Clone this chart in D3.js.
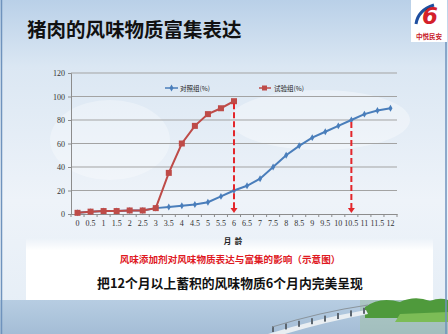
<!DOCTYPE html>
<html>
<head>
<meta charset="utf-8">
<script src="https://cdn.jsdelivr.net/npm/d3@7"></script>
<style>
  body { margin: 0; }
  svg { display: block; }
</style>
</head>
<body>
<div id="chart-area"></div>
<script>
const months = ["0","0.5","1","1.5","2","2.5","3","3.5","4","4.5","5","5.5","6",
  "6.5","7","7.5","8","8.5","9","9.5","10","10.5","11","11.5","12"];
const control = [1,2,2.5,2.5,3,3,5,6,7,8,10,15,20,24,30,40,50,58,65,70,75,80,85,88,90];
const trial = [1,2,2.5,2.5,3,3,5,35,60,75,85,90,96];
const yTicks = [0,20,40,60,80,100,120];
const seriesNames = ["对照组(%)", "试验组(%)"];
const arrowsAt = [["6", trial], ["10.5", control]];

const W = 448, H = 334;
const svg = d3.select("#chart-area").append("svg")
  .attr("width", W).attr("height", H);

const defs = svg.append("defs");
const bg = defs.append("linearGradient").attr("id", "bg")
  .attr("x1", 0).attr("y1", 0).attr("x2", 0).attr("y2", 1);
bg.append("stop").attr("offset", "0").attr("stop-color", "#b9d0e8");
bg.append("stop").attr("offset", "0.2").attr("stop-color", "#dbe7f3");
bg.append("stop").attr("offset", "0.6").attr("stop-color", "#eef3f9");
bg.append("stop").attr("offset", "1").attr("stop-color", "#e4edf6");

const sea = defs.append("linearGradient").attr("id", "sea")
  .attr("x1", 0).attr("y1", 0).attr("x2", 0).attr("y2", 1);
sea.append("stop").attr("offset", "0").attr("stop-color", "#b7cde2");
sea.append("stop").attr("offset", "1").attr("stop-color", "#a4bdd6");

const fade = defs.append("linearGradient").attr("id", "fade")
  .attr("x1", 0).attr("y1", 0).attr("x2", 0).attr("y2", 1);
fade.append("stop").attr("offset", "0").attr("stop-color", "#fff").attr("stop-opacity", 0);
fade.append("stop").attr("offset", "0.2").attr("stop-color", "#fff").attr("stop-opacity", 1);
fade.append("stop").attr("offset", "1").attr("stop-color", "#fff").attr("stop-opacity", 1);

// slide background
svg.append("rect").attr("width", W).attr("height", H).attr("fill", "url(#bg)");
svg.append("ellipse").attr("cx", 320).attr("cy", 120).attr("rx", 90).attr("ry", 30)
  .attr("fill", "#fff").attr("opacity", 0.35);
svg.append("ellipse").attr("cx", 110).attr("cy", 140).attr("rx", 60).attr("ry", 40)
  .attr("fill", "#fff").attr("opacity", 0.3);

// white caption box
svg.append("rect").attr("x", 26).attr("y", 238).attr("width", 407).attr("height", 62)
  .attr("fill", "url(#fade)");

// sea strip and bridge
svg.append("rect").attr("x", 0).attr("y", 300).attr("width", W).attr("height", 34)
  .attr("fill", "url(#sea)");
svg.append("rect").attr("x", 360).attr("y", 300).attr("width", 88).attr("height", 34)
  .attr("fill", "#9fbfa6").attr("opacity", 0.5);
svg.append("path").attr("d", "M365,307 Q380,296 400,302 Q415,295 430,301 Q440,297 448,300 L448,318 L365,318 Z")
  .attr("fill", "#4f9a3c");
svg.append("path").attr("d", "M400,314 L448,312 L448,322 L395,322 Z").attr("fill", "#7cbc56");
svg.append("path").attr("d", "M268,334 Q320,318 366,310 L368,314 Q325,322 285,334 Z")
  .attr("fill", "#e9eef2");
const posts = d3.range(0, 8);
svg.selectAll(".post").data(posts).enter().append("rect")
  .attr("x", d => 272 + d * 13).attr("y", d => 326 - d * 2.6)
  .attr("width", 2).attr("height", 6).attr("fill", "#5c6670");
svg.append("path").attr("d", "M272,327 Q320,312 368,305").attr("fill", "none")
  .attr("stroke", "#8a949c").attr("stroke-width", 1);

// slide frame
svg.append("rect").attr("x", 1.5).attr("y", -1).attr("width", 444.5).attr("height", H + 2)
  .attr("fill", "none").attr("stroke", "#6f93bd").attr("stroke-width", 1.5);

// title
svg.append("text").attr("x", 27).attr("y", 37)
  .attr("font-family", "Noto Sans CJK SC").attr("font-weight", 700)
  .attr("font-size", 19.5).attr("fill", "#111")
  .text("猪肉的风味物质富集表达");

// logo
const logo = svg.append("g");
logo.append("rect").attr("x", 411).attr("y", 0).attr("width", 36).attr("height", 42).attr("fill", "#fff");
logo.append("path").attr("d", "M416,24 Q418,10 434,5").attr("fill", "none")
  .attr("stroke", "#1f4fa0").attr("stroke-width", 3);
logo.append("text").attr("x", 430).attr("y", 24).attr("text-anchor", "middle")
  .attr("font-family", "DejaVu Sans").attr("font-weight", 700).attr("font-style", "italic")
  .attr("font-size", 23).attr("fill", "#d4202a").text("6");
logo.append("text").attr("x", 429).attr("y", 39).attr("text-anchor", "middle")
  .attr("font-family", "Noto Sans CJK SC").attr("font-weight", 700)
  .attr("font-size", 6.5).attr("fill", "#c8202a").text("中悦民安");

// chart
const plot = { left: 71, right: 397, top: 73, bottom: 214 };
const x = d3.scaleBand().domain(months).range([plot.left, plot.right]);
const y = d3.scaleLinear().domain([0, 120]).range([plot.bottom, plot.top]);
const cx = m => x(m) + x.bandwidth() / 2;

const g = svg.append("g");

g.selectAll(".grid").data(yTicks.filter(d => d > 0)).enter().append("line")
  .attr("x1", plot.left).attr("x2", plot.right)
  .attr("y1", d => y(d)).attr("y2", d => y(d))
  .attr("stroke", "#a3a3a3").attr("stroke-width", 1);

const yAxis = g.append("g").attr("transform", `translate(${plot.left},0)`)
  .call(d3.axisLeft(y).tickValues(yTicks).tickSize(3).tickPadding(3));
yAxis.select(".domain").attr("stroke", "#8c8c8c");
yAxis.selectAll(".tick line").attr("stroke", "#8c8c8c");
yAxis.selectAll("text").attr("font-family", "Liberation Serif").attr("font-size", 8).attr("fill", "#333");

const xAxis = g.append("g").attr("transform", `translate(0,${plot.bottom})`)
  .call(d3.axisBottom(x).tickSize(0).tickPadding(6));
xAxis.select(".domain").attr("stroke", "#8c8c8c");
xAxis.selectAll("text").attr("font-family", "Liberation Serif").attr("font-size", 8).attr("fill", "#333");
g.selectAll(".xtick").data(months.concat(["end"])).enter().append("line")
  .attr("x1", d => d === "end" ? plot.right : x(d))
  .attr("x2", d => d === "end" ? plot.right : x(d))
  .attr("y1", plot.bottom).attr("y2", plot.bottom + 3)
  .attr("stroke", "#8c8c8c");

g.append("text").attr("x", 233).attr("y", 244).attr("text-anchor", "middle")
  .style("white-space", "pre")
  .attr("font-family", "Noto Sans CJK SC").attr("font-weight", 700)
  .attr("font-size", 7.5).attr("fill", "#222").text("月  龄");

const line = d3.line().x((d, i) => cx(months[i])).y(d => y(d));
const blue = "#4a7ebb", red = "#be4b48";

// control series
g.append("path").datum(control).attr("d", line)
  .attr("fill", "none").attr("stroke", blue).attr("stroke-width", 2);
g.selectAll(".cpt").data(control).enter().append("path")
  .attr("d", d3.symbol(d3.symbolDiamond, 14))
  .attr("transform", (d, i) => `translate(${cx(months[i])},${y(d)})`)
  .attr("fill", blue);

// trial series
g.append("path").datum(trial).attr("d", line)
  .attr("fill", "none").attr("stroke", red).attr("stroke-width", 2);
g.selectAll(".tpt").data(trial).enter().append("rect")
  .attr("x", (d, i) => cx(months[i]) - 3).attr("y", d => y(d) - 3)
  .attr("width", 6).attr("height", 6).attr("fill", red);

// legend
const lg = g.append("g").attr("font-family", "Noto Sans CJK SC").attr("font-size", 6.5).attr("fill", "#222");
lg.append("line").attr("x1", 165).attr("x2", 178).attr("y1", 88).attr("y2", 88)
  .attr("stroke", blue).attr("stroke-width", 1.5);
lg.append("path").attr("d", d3.symbol(d3.symbolDiamond, 14)).attr("transform", "translate(171.5,88)").attr("fill", blue);
lg.append("text").attr("x", 180).attr("y", 90.5).text(seriesNames[0]);
lg.append("line").attr("x1", 259).attr("x2", 271).attr("y1", 88).attr("y2", 88)
  .attr("stroke", red).attr("stroke-width", 1.5);
lg.append("rect").attr("x", 262).attr("y", 85.5).attr("width", 5).attr("height", 5).attr("fill", red);
lg.append("text").attr("x", 274).attr("y", 90.5).text(seriesNames[1]);

// dashed arrows
const arrowColor = "#e3262b";
arrowsAt.forEach(([m, series]) => {
  const v = series[months.indexOf(m)];
  const ax = cx(m);
  g.append("line").attr("x1", ax).attr("x2", ax)
    .attr("y1", y(v) + 2).attr("y2", plot.bottom - 5)
    .attr("stroke", arrowColor).attr("stroke-width", 2)
    .attr("stroke-dasharray", "6,3");
  g.append("path")
    .attr("d", `M${ax - 3.5},${plot.bottom - 6} L${ax + 3.5},${plot.bottom - 6} L${ax},${plot.bottom - 1} Z`)
    .attr("fill", arrowColor);
});

// captions
svg.append("text").attr("x", 230).attr("y", 262.5).attr("text-anchor", "middle")
  .attr("font-family", "Noto Sans CJK SC").attr("font-weight", 700)
  .attr("font-size", 9.6).attr("fill", "#e0191f")
  .text("风味添加剂对风味物质表达与富集的影响（示意图）");
svg.append("text").attr("x", 230).attr("y", 287.5).attr("text-anchor", "middle")
  .attr("font-family", "Noto Sans CJK SC").attr("font-weight", 700)
  .attr("font-size", 12.8).attr("fill", "#111")
  .text("把12个月以上蓄积的风味物质6个月内完美呈现");
</script>
</body>
</html>
